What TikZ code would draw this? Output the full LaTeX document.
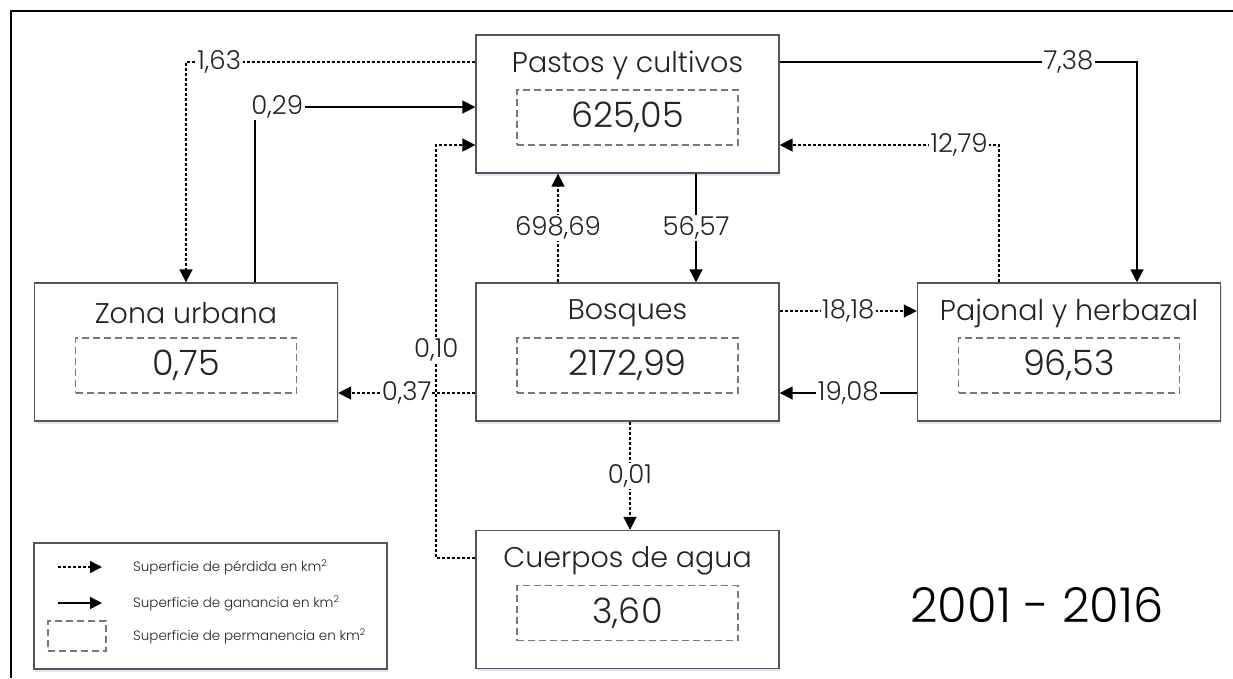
\documentclass[tikz,border=0pt]{standalone}
\usepackage{fontspec}
\setmainfont{Poppins Light}
\usepackage{tikz}
\usetikzlibrary{arrows.meta}
\usetikzlibrary{shadows}

\definecolor{boxgray}{RGB}{85,85,85}
\definecolor{dashgray}{RGB}{120,120,120}
\definecolor{inkgray}{RGB}{35,35,35}
\definecolor{shadowblue}{RGB}{205,220,240}

\tikzset{
    landbox/.style={draw=boxgray,line width=1.4pt,fill=white,
        minimum width=303pt,minimum height=138pt,inner sep=0pt,
        drop shadow={shadow xshift=1pt,shadow yshift=-2.5pt,fill=shadowblue,opacity=0.7}},
    areabox/.style={draw=dashgray,line width=1.2pt,dash pattern=on 7pt off 4pt,
        minimum width=221pt,minimum height=55pt,inner sep=0pt,
        text=inkgray,font=\fontsize{35}{40}\selectfont},
    landname/.style={text=inkgray,inner sep=0pt,font=\fontsize{28.5}{32}\selectfont},
    loss/.style={draw=black,line width=1.8pt,dash pattern=on 3pt off 2pt,
        -{Triangle[length=13pt,width=13pt]}},
    gain/.style={draw=black,line width=1.8pt,-{Triangle[length=13pt,width=13pt]}},
    flowlabel/.style={fill=white,text=inkgray,inner sep=1.5pt,
        font=\fontsize{26}{30}\selectfont},
    legendtext/.style={text=inkgray,anchor=west,inner sep=0pt,
        font=\fontsize{13.5}{16}\selectfont}
}

\begin{document}
\begin{tikzpicture}[x=1pt,y=-1pt]
        \useasboundingbox (0,0) rectangle (1233,678);

        % Frame
        \draw [line width=2.4pt] (11,678) -- (11,11) -- (1233,11);

        % Land cover boxes
        \node (pastos) [landbox] at (627.5,104) {};
        \node (pastosname) [landname] at ([yshift=39pt]pastos.center) {Pastos y cultivos};
        \node (pastosarea) [areabox] at ([yshift=-13.5pt]pastos.center) {625,05};

        \node (zona) [landbox] at (186,352) {};
        \node (zonaname) [landname] at ([yshift=39pt]zona.center) {Zona urbana};
        \node (zonaarea) [areabox] at ([yshift=-13.5pt]zona.center) {0,75};

        \node (bosques) [landbox] at (627.5,352) {};
        \node (bosquesname) [landname] at ([yshift=39pt]bosques.center) {Bosques};
        \node (bosquesarea) [areabox] at ([yshift=-13.5pt]bosques.center) {2172,99};

        \node (pajonal) [landbox] at (1069,352) {};
        \node (pajonalname) [landname] at ([yshift=39pt]pajonal.center) {Pajonal y herbazal};
        \node (pajonalarea) [areabox] at ([yshift=-13.5pt]pajonal.center) {96,53};

        \node (cuerpos) [landbox] at (627.5,599.5) {};
        \node (cuerposname) [landname] at ([yshift=39pt]cuerpos.center) {Cuerpos de agua};
        \node (cuerposarea) [areabox] at ([yshift=-13.5pt]cuerpos.center) {3,60};

        % Flows from Pastos y cultivos
        \draw [loss] ([yshift=42pt]pastos.west) -| (zona.north)
            node [flowlabel,pos=0.5,anchor=west,xshift=9pt] {1,63};
        \draw [gain] ([yshift=42pt]pastos.east) -| ([xshift=68pt]pajonal.north)
            node [flowlabel,pos=0.404] {7,38};
        \draw [gain] ([xshift=68.5pt]pastos.south) -- ([xshift=68.5pt]bosques.north)
            node [flowlabel,midway] {56,57};

        % Flows into Pastos y cultivos
        \draw [gain] ([xshift=69pt]zona.north) |- ([yshift=-3pt]pastos.west)
            node [flowlabel,pos=0.5,anchor=west,xshift=-6pt] {0,29};
        \draw [loss] ([xshift=-70pt]pajonal.north) |- ([yshift=-41pt]pastos.east)
            node [flowlabel,pos=0.591] {12,79};
        \draw [loss] ([xshift=-69.5pt]bosques.north) -- ([xshift=-69.5pt]pastos.south)
            node [flowlabel,midway] {698,69};

        % Flows from Bosques
        \draw [loss] ([yshift=41pt]bosques.east) -- ([yshift=41pt]pajonal.west)
            node [flowlabel,midway] {18,18};
        \draw [loss] ([yshift=-41pt]bosques.west) -- ([yshift=-41pt]zona.east)
            node [flowlabel,midway,inner sep=0.5pt] {0,37};
        \draw [loss] ([xshift=2.5pt]bosques.south) -- ([xshift=2.5pt]cuerpos.north)
            node [flowlabel,midway] {0,01};
        \draw [gain] ([yshift=-41pt]pajonal.west) -- ([yshift=-41pt]bosques.east)
            node [flowlabel,midway] {19,08};

        % Cuerpos de agua to Pastos y cultivos
        \draw [loss] ([yshift=41.5pt]cuerpos.west) -| ([xshift=-39pt,yshift=-41pt]pastos.west)
            node [flowlabel,pos=0.752] {0,10} -- ([yshift=-41pt]pastos.west);

        % Legend
        \node (legend) [draw=boxgray,line width=1.4pt,minimum width=353pt,minimum height=126pt,
            drop shadow={shadow xshift=1pt,shadow yshift=-2.5pt,fill=shadowblue,opacity=0.7},
            fill=white] at (210.5,606) {};
        \coordinate (lossstart) at (58,567);
        \coordinate (lossend) at (102,567);
        \coordinate (gainstart) at (58,603);
        \coordinate (gainend) at (102,603);
        \draw [loss,line width=1.5pt,-{Triangle[length=12pt,width=12pt]}] (lossstart) -- (lossend);
        \draw [gain,line width=1.5pt,-{Triangle[length=12pt,width=12pt]}] (gainstart) -- (gainend);
        \node (keeparea) [draw=dashgray,line width=1.2pt,dash pattern=on 7pt off 4pt,
            minimum width=58pt,minimum height=30pt] at (77,636) {};
        \node (losstext) [legendtext] at (133,567) {Superficie de pérdida en km\textsuperscript{2}};
        \node (gaintext) [legendtext] at (133,603) {Superficie de ganancia en km\textsuperscript{2}};
        \node (keeptext) [legendtext] at (133,636) {Superficie de permanencia en km\textsuperscript{2}};

        % Period
        \node (period) [text=black,font=\fontsize{48}{54}\selectfont] at (1037,605) {2001 - 2016};
\end{tikzpicture}
\end{document}
